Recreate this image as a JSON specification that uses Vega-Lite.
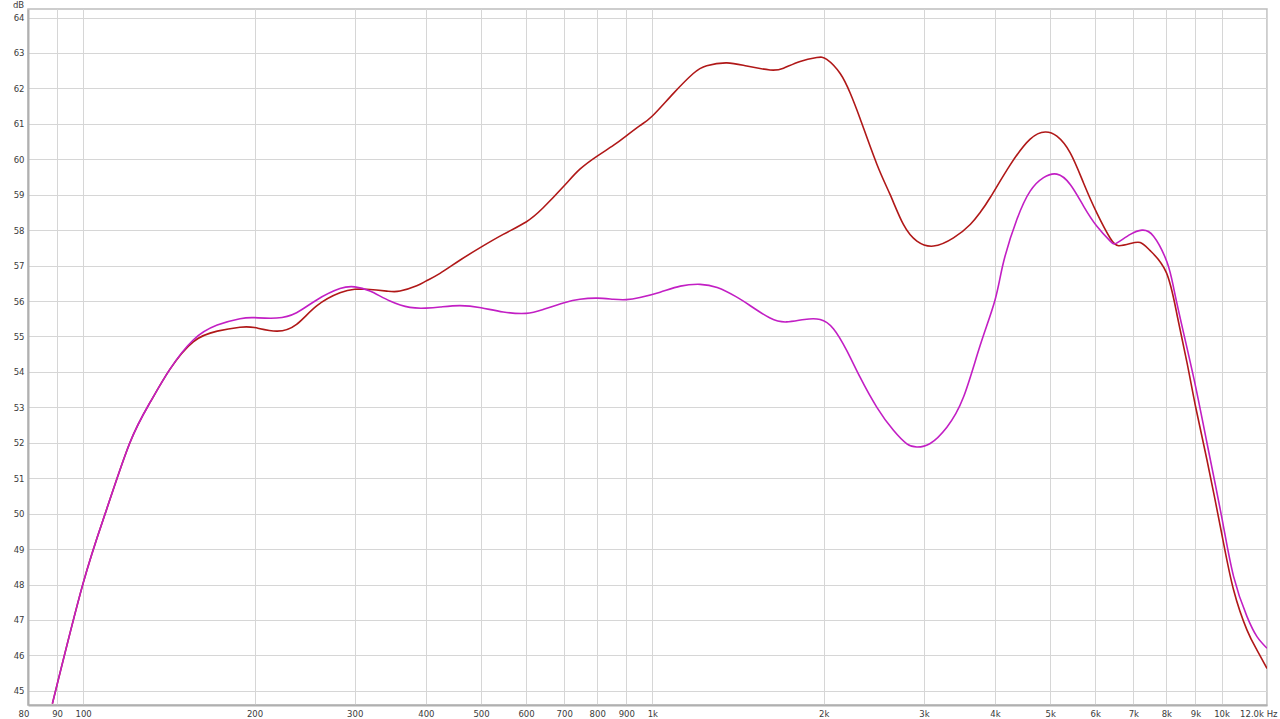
{
  "$schema": "https://vega.github.io/schema/vega-lite/v6.json",
  "autosize": {"type": "none"},
  "width": 1239,
  "height": 696,
  "padding": {"left": 28, "top": 9, "right": 13, "bottom": 14},
  "background": "white",
  "config": {
    "view": {"stroke": "#bdbdbd", "strokeWidth": 1.5},
    "axis": {
      "labelFont": "DejaVu Sans",
      "labelFontSize": 8.5,
      "labelColor": "#3a3a3a",
      "gridColor": "#d6d6d6",
      "gridWidth": 1,
      "ticks": false,
      "domainColor": "#b0b0b0",
      "domainWidth": 2
    }
  },
  "datasets": {
    "curves": [
      {"f": 88.3, "db": 44.64, "s": "A"},
      {"f": 100, "db": 48.04, "s": "A"},
      {"f": 109.9, "db": 50.11, "s": "A"},
      {"f": 120.8, "db": 52.0, "s": "A"},
      {"f": 131, "db": 53.13, "s": "A"},
      {"f": 142, "db": 54.07, "s": "A"},
      {"f": 156.1, "db": 54.85, "s": "A"},
      {"f": 172, "db": 55.15, "s": "A"},
      {"f": 188.6, "db": 55.26, "s": "A"},
      {"f": 200, "db": 55.25, "s": "A"},
      {"f": 218.7, "db": 55.15, "s": "A"},
      {"f": 237.1, "db": 55.34, "s": "A"},
      {"f": 257.2, "db": 55.86, "s": "A"},
      {"f": 282.6, "db": 56.23, "s": "A"},
      {"f": 300, "db": 56.33, "s": "A"},
      {"f": 314.8, "db": 56.33, "s": "A"},
      {"f": 341.5, "db": 56.28, "s": "A"},
      {"f": 360.3, "db": 56.28, "s": "A"},
      {"f": 385.5, "db": 56.43, "s": "A"},
      {"f": 400, "db": 56.56, "s": "A"},
      {"f": 423.6, "db": 56.78, "s": "A"},
      {"f": 459, "db": 57.15, "s": "A"},
      {"f": 500, "db": 57.52, "s": "A"},
      {"f": 547, "db": 57.88, "s": "A"},
      {"f": 600, "db": 58.23, "s": "A"},
      {"f": 643, "db": 58.63, "s": "A"},
      {"f": 700, "db": 59.25, "s": "A"},
      {"f": 746, "db": 59.72, "s": "A"},
      {"f": 800, "db": 60.09, "s": "A"},
      {"f": 854, "db": 60.39, "s": "A"},
      {"f": 900, "db": 60.66, "s": "A"},
      {"f": 951, "db": 60.95, "s": "A"},
      {"f": 1000, "db": 61.22, "s": "A"},
      {"f": 1089, "db": 61.86, "s": "A"},
      {"f": 1180, "db": 62.42, "s": "A"},
      {"f": 1246, "db": 62.64, "s": "A"},
      {"f": 1351, "db": 62.72, "s": "A"},
      {"f": 1465, "db": 62.63, "s": "A"},
      {"f": 1610, "db": 62.52, "s": "A"},
      {"f": 1700, "db": 62.57, "s": "A"},
      {"f": 1818, "db": 62.76, "s": "A"},
      {"f": 1945, "db": 62.87, "s": "A"},
      {"f": 2025, "db": 62.82, "s": "A"},
      {"f": 2138, "db": 62.42, "s": "A"},
      {"f": 2226, "db": 61.87, "s": "A"},
      {"f": 2317, "db": 61.15, "s": "A"},
      {"f": 2480, "db": 59.86, "s": "A"},
      {"f": 2617, "db": 59.0, "s": "A"},
      {"f": 2761, "db": 58.16, "s": "A"},
      {"f": 2916, "db": 57.69, "s": "A"},
      {"f": 3118, "db": 57.55, "s": "A"},
      {"f": 3381, "db": 57.78, "s": "A"},
      {"f": 3618, "db": 58.16, "s": "A"},
      {"f": 3767, "db": 58.5, "s": "A"},
      {"f": 3923, "db": 58.92, "s": "A"},
      {"f": 4253, "db": 59.84, "s": "A"},
      {"f": 4611, "db": 60.57, "s": "A"},
      {"f": 4900, "db": 60.77, "s": "A"},
      {"f": 5137, "db": 60.65, "s": "A"},
      {"f": 5422, "db": 60.18, "s": "A"},
      {"f": 5722, "db": 59.33, "s": "A"},
      {"f": 6040, "db": 58.48, "s": "A"},
      {"f": 6375, "db": 57.77, "s": "A"},
      {"f": 6594, "db": 57.56, "s": "A"},
      {"f": 6914, "db": 57.62, "s": "A"},
      {"f": 7197, "db": 57.65, "s": "A"},
      {"f": 7494, "db": 57.42, "s": "A"},
      {"f": 8000, "db": 56.8, "s": "A"},
      {"f": 8362, "db": 55.57, "s": "A"},
      {"f": 8696, "db": 54.26, "s": "A"},
      {"f": 9000, "db": 53.03, "s": "A"},
      {"f": 9426, "db": 51.52, "s": "A"},
      {"f": 10000, "db": 49.46, "s": "A"},
      {"f": 10498, "db": 47.85, "s": "A"},
      {"f": 11081, "db": 46.72, "s": "A"},
      {"f": 11541, "db": 46.15, "s": "A"},
      {"f": 12019, "db": 45.63, "s": "A"},
      {"f": 88.3, "db": 44.64, "s": "B"},
      {"f": 100, "db": 48.04, "s": "B"},
      {"f": 109.9, "db": 50.11, "s": "B"},
      {"f": 120.8, "db": 52.0, "s": "B"},
      {"f": 131, "db": 53.13, "s": "B"},
      {"f": 142, "db": 54.07, "s": "B"},
      {"f": 156.1, "db": 54.9, "s": "B"},
      {"f": 172, "db": 55.32, "s": "B"},
      {"f": 188.6, "db": 55.5, "s": "B"},
      {"f": 200, "db": 55.53, "s": "B"},
      {"f": 218.7, "db": 55.52, "s": "B"},
      {"f": 237.1, "db": 55.67, "s": "B"},
      {"f": 257.2, "db": 56.03, "s": "B"},
      {"f": 282.6, "db": 56.35, "s": "B"},
      {"f": 300, "db": 56.4, "s": "B"},
      {"f": 319, "db": 56.28, "s": "B"},
      {"f": 346, "db": 56.0, "s": "B"},
      {"f": 375, "db": 55.82, "s": "B"},
      {"f": 400, "db": 55.8, "s": "B"},
      {"f": 424, "db": 55.83, "s": "B"},
      {"f": 459, "db": 55.87, "s": "B"},
      {"f": 500, "db": 55.81, "s": "B"},
      {"f": 547, "db": 55.69, "s": "B"},
      {"f": 600, "db": 55.65, "s": "B"},
      {"f": 643, "db": 55.76, "s": "B"},
      {"f": 700, "db": 55.95, "s": "B"},
      {"f": 746, "db": 56.05, "s": "B"},
      {"f": 800, "db": 56.08, "s": "B"},
      {"f": 854, "db": 56.05, "s": "B"},
      {"f": 900, "db": 56.04, "s": "B"},
      {"f": 951, "db": 56.1, "s": "B"},
      {"f": 1032, "db": 56.25, "s": "B"},
      {"f": 1120, "db": 56.42, "s": "B"},
      {"f": 1213, "db": 56.47, "s": "B"},
      {"f": 1300, "db": 56.38, "s": "B"},
      {"f": 1400, "db": 56.13, "s": "B"},
      {"f": 1482, "db": 55.88, "s": "B"},
      {"f": 1610, "db": 55.52, "s": "B"},
      {"f": 1721, "db": 55.41, "s": "B"},
      {"f": 1850, "db": 55.48, "s": "B"},
      {"f": 1971, "db": 55.48, "s": "B"},
      {"f": 2080, "db": 55.22, "s": "B"},
      {"f": 2196, "db": 54.6, "s": "B"},
      {"f": 2317, "db": 53.85, "s": "B"},
      {"f": 2480, "db": 53.0, "s": "B"},
      {"f": 2652, "db": 52.35, "s": "B"},
      {"f": 2800, "db": 51.97, "s": "B"},
      {"f": 2916, "db": 51.88, "s": "B"},
      {"f": 3077, "db": 51.98, "s": "B"},
      {"f": 3292, "db": 52.44, "s": "B"},
      {"f": 3521, "db": 53.29, "s": "B"},
      {"f": 3767, "db": 54.75, "s": "B"},
      {"f": 4000, "db": 56.03, "s": "B"},
      {"f": 4140, "db": 57.1, "s": "B"},
      {"f": 4369, "db": 58.3, "s": "B"},
      {"f": 4611, "db": 59.1, "s": "B"},
      {"f": 4867, "db": 59.48, "s": "B"},
      {"f": 5137, "db": 59.58, "s": "B"},
      {"f": 5422, "db": 59.29, "s": "B"},
      {"f": 5722, "db": 58.68, "s": "B"},
      {"f": 6040, "db": 58.11, "s": "B"},
      {"f": 6375, "db": 57.69, "s": "B"},
      {"f": 6551, "db": 57.64, "s": "B"},
      {"f": 6914, "db": 57.88, "s": "B"},
      {"f": 7247, "db": 58.0, "s": "B"},
      {"f": 7595, "db": 57.83, "s": "B"},
      {"f": 8019, "db": 57.1, "s": "B"},
      {"f": 8248, "db": 56.33, "s": "B"},
      {"f": 8576, "db": 55.1, "s": "B"},
      {"f": 9000, "db": 53.6, "s": "B"},
      {"f": 9426, "db": 52.0, "s": "B"},
      {"f": 10000, "db": 49.93, "s": "B"},
      {"f": 10498, "db": 48.23, "s": "B"},
      {"f": 11081, "db": 47.1, "s": "B"},
      {"f": 11541, "db": 46.53, "s": "B"},
      {"f": 12019, "db": 46.2, "s": "B"}
    ]
  },
  "data": {"name": "curves"},
  "mark": {"type": "line", "interpolate": "natural", "strokeWidth": 1.6, "clip": true},
  "encoding": {
    "x": {
      "field": "f",
      "type": "quantitative",
      "scale": {"type": "log", "domain": [80, 12019], "nice": false},
      "axis": {
        "title": null,
        "values": [80, 90, 100, 200, 300, 400, 500, 600, 700, 800, 900, 1000, 2000, 3000, 4000, 5000, 6000, 7000, 8000, 9000, 10000, 12019],
        "labelExpr": "datum.value >= 12000 ? '12.0k Hz' : (datum.value == 80 ? '\u00a0\u00a080' : (datum.value >= 1000 ? (datum.value / 1000) + 'k' : datum.value + ''))",
        "labelOverlap": false,
        "labelFlush": true,
        "labelFlushOffset": 10,
        "labelPadding": 4
      }
    },
    "y": {
      "field": "db",
      "type": "quantitative",
      "scale": {"domain": [44.6, 64.24], "nice": false, "zero": false},
      "axis": {
        "title": "dB",
        "titleAngle": 0,
        "titleFont": "DejaVu Sans",
        "titleFontSize": 8.5,
        "titleFontWeight": "normal",
        "titleColor": "#3a3a3a",
        "titleX": -10,
        "titleY": -9,
        "titleAlign": "center",
        "titleBaseline": "top",
        "values": [45, 46, 47, 48, 49, 50, 51, 52, 53, 54, 55, 56, 57, 58, 59, 60, 61, 62, 63, 64],
        "labelPadding": 4
      }
    },
    "color": {
      "field": "s",
      "type": "nominal",
      "scale": {"domain": ["A", "B"], "range": ["#b01818", "#c21fc4"]},
      "legend": null
    }
  }
}
